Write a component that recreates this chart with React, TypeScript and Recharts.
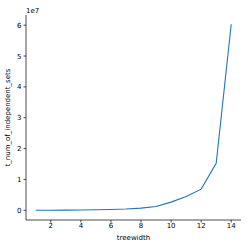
import { LineChart, Line, XAxis, YAxis } from 'recharts'

const treewidth = [1, 2, 3, 4, 5, 6, 7, 8, 9, 10, 11, 12, 13, 14]
const numIndependentSets = [
  10000, 20000, 40000, 80000, 150000, 250000, 400000, 700000, 1250000, 2650000, 4500000,
  6850000, 15200000, 60300000,
]
const xTicks = [2, 4, 6, 8, 10, 12, 14]
const yTicks = [0, 1e7, 2e7, 3e7, 4e7, 5e7, 6e7]

const data = treewidth.map((t, i) => ({ t, v: numIndependentSets[i] }))

const font = 'DejaVu Sans, sans-serif'
const tickStyle = { fill: '#000', fontSize: 7, fontFamily: font }

export default function App() {
  return (
    <div style={{ position: 'absolute', left: 0, top: 0, width: 249, height: 249, background: '#fff' }}>
      <LineChart width={249} height={249} data={data} margin={{ top: 15, right: 8, bottom: 0, left: 0 }}>
        <XAxis
          dataKey="t"
          type="number"
          domain={[0.35, 14.65]}
          ticks={xTicks}
          height={29}
          tick={tickStyle}
          tickSize={2.5}
          tickMargin={1}
          axisLine={{ stroke: '#000', strokeWidth: 0.7 }}
          tickLine={{ stroke: '#000', strokeWidth: 0.7 }}
          label={{ value: 'treewidth', position: 'insideBottom', offset: 9, style: { ...tickStyle } }}
        />
        <YAxis
          type="number"
          domain={[-3.15e6, 6.33e7]}
          ticks={yTicks}
          width={26}
          tick={tickStyle}
          tickSize={2.5}
          tickMargin={2}
          tickFormatter={(v: number) => `${Math.round(v / 1e7)}`}
          axisLine={{ stroke: '#000', strokeWidth: 0.7 }}
          tickLine={{ stroke: '#000', strokeWidth: 0.7 }}
          allowDataOverflow
          label={{
            value: 't_num_of_independent_sets',
            angle: -90,
            position: 'insideLeft',
            offset: 8,
            style: { ...tickStyle, textAnchor: 'middle' },
          }}
        />
        <Line
          dataKey="v"
          type="linear"
          stroke="#1f77b4"
          strokeWidth={1.1}
          dot={false}
          isAnimationActive={false}
        />
        <text x={26} y={13} fontSize={7} fontFamily={font} fill="#000">
          1e7
        </text>
      </LineChart>
    </div>
  )
}
